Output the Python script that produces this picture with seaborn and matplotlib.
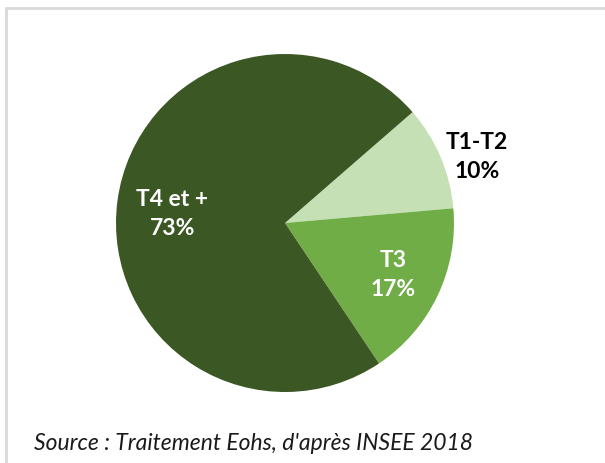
import numpy as np
import matplotlib
matplotlib.use("Agg")
import matplotlib.pyplot as plt
import seaborn as sns
from matplotlib.lines import Line2D

categories = ["T1-T2", "T3", "T4 et +"]
values = [10, 17, 73]
pct_labels = ["10%", "17%", "73%"]
colors = ["#C5E0B4", "#70AD47", "#3A5724"]
text_colors = ["black", "white", "white"]
source = "Source : Traitement Eohs, d'après INSEE 2018"

sns.set_theme(style="white")
plt.rcParams['font.family'] = ['Lato', 'DejaVu Sans']

W, H = 605, 463
fig = plt.figure(figsize=(W / 100, H / 100), dpi=100)
fig.patch.set_facecolor("white")

cx, cy, r = 285, 223, 169
ax = fig.add_axes([(cx - r) / W, (H - cy - r) / H, 2 * r / W, 2 * r / H])
wedges, _ = ax.pie(values, colors=colors, startangle=41, counterclock=False,
                   radius=1, wedgeprops=dict(linewidth=0))
ax.set_xlim(-1, 1)
ax.set_ylim(-1, 1)
ax.set_aspect("equal")
ax.axis("off")

dist = [1.2, 0.71, 0.67]
ang_adj = [-4, 0, 3]
for w, cat, pct, tc, d, da in zip(wedges, categories, pct_labels, text_colors, dist, ang_adj):
    mid = np.deg2rad((w.theta1 + w.theta2) / 2 + da)
    x, y = d * np.cos(mid), d * np.sin(mid)
    ax.text(x, y, f"{cat}\n{pct}", ha="center", va="center", color=tc,
            fontsize=16.5, fontweight="bold", linespacing=1.45, clip_on=False)

# frame
fig.add_artist(Line2D([6 / W, 6 / W], [0, 1 - 8 / H], transform=fig.transFigure,
                      color="#D9D9D9", lw=2))
fig.add_artist(Line2D([6 / W, 1], [1 - 8 / H, 1 - 8 / H], transform=fig.transFigure,
                      color="#D9D9D9", lw=2))

fig.text(34 / W, 1 - 443 / H, source, ha="left", va="center", fontsize=16.5,
         style="italic", color="#1a1a1a")

fig.savefig("out.png", dpi=100, facecolor="white")
